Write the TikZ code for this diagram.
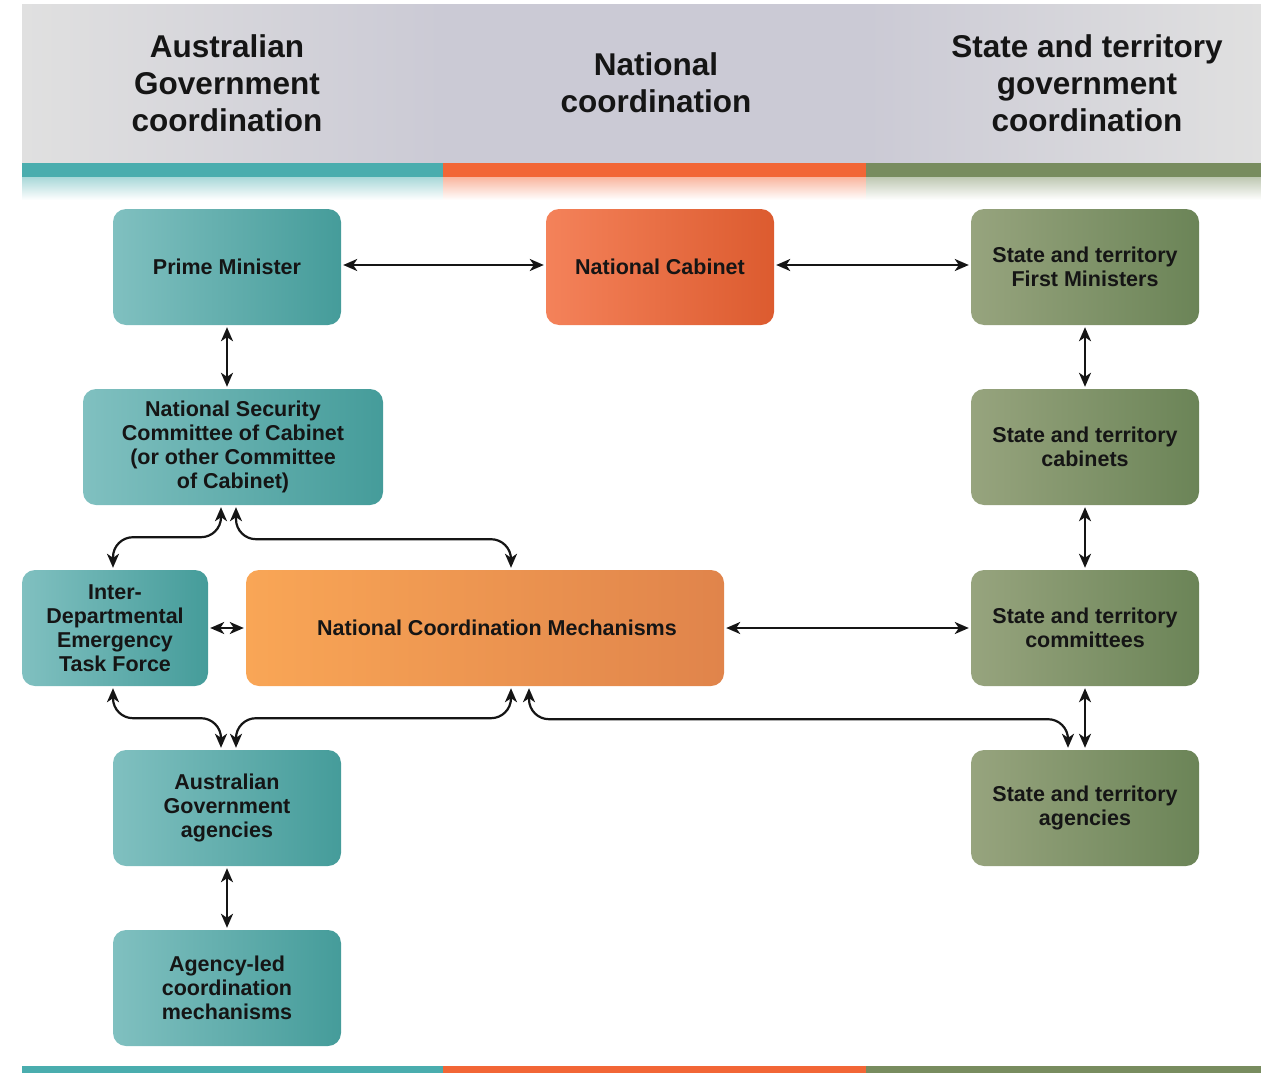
\documentclass[tikz,border=0pt]{standalone}
\usepackage{fontspec}
\setmainfont{Liberation Sans}
\usetikzlibrary{arrows.meta}
\definecolor{tealbar}{HTML}{4AADAE}
\definecolor{orangebar}{HTML}{F26636}
\definecolor{greenbar}{HTML}{788C5F}
\definecolor{hdrlight}{HTML}{E0E0E0}
\definecolor{hdrdark}{HTML}{CBCAD5}
\definecolor{tealA}{HTML}{80C0C0}
\definecolor{tealB}{HTML}{4BACAC}
\definecolor{tealC}{HTML}{459C9A}
\definecolor{ncA}{HTML}{F4825A}
\definecolor{ncB}{HTML}{F26536}
\definecolor{ncC}{HTML}{DC5B2F}
\definecolor{ncmA}{HTML}{F9A656}
\definecolor{ncmB}{HTML}{EE9450}
\definecolor{ncmC}{HTML}{E0844B}
\definecolor{grA}{HTML}{97A47E}
\definecolor{grB}{HTML}{7F9066}
\definecolor{grC}{HTML}{6B8457}
\definecolor{txt}{HTML}{151515}
\newcommand\mybfont{\fontsize{21.5}{24}\selectfont\bfseries}
\newcommand\myhfont{\fontsize{31.5}{37}\selectfont\bfseries}
\begin{document}
\begin{tikzpicture}[x=1pt,y=-1pt,
  box/.style={rounded corners=13pt, minimum width=228pt, minimum height=116pt,
    align=center, font=\mybfont, text=txt, inner sep=0pt},
  tealbox/.style={box, left color=tealA, middle color=tealB, right color=tealC},
  ncbox/.style={box, left color=ncA, middle color=ncB, right color=ncC},
  ncmbox/.style={box, left color=ncmA, middle color=ncmB, right color=ncmC},
  grbox/.style={box, left color=grA, middle color=grB, right color=grC},
  hdr/.style={align=center, font=\myhfont, text=txt, inner sep=0pt},
  biarrow/.style={{Stealth[length=14pt,width=12pt,inset=4pt]}-{Stealth[length=14pt,width=12pt,inset=4pt]},
    line width=2.2pt, draw=txt, shorten <=2pt, shorten >=2pt},
  curved/.style={biarrow, rounded corners=20pt}]
\useasboundingbox (0,0) rectangle (1261,1073);
% header background
\shade[left color=hdrlight, right color=hdrdark] (22,5) rectangle (443,163);
\shade[left color=hdrdark, middle color=hdrlight, right color=hdrdark] (443,5) rectangle (866,163);
\shade[left color=hdrdark, right color=hdrlight] (866,5) rectangle (1261,163);
% bars
\shade[top color=tealbar!50, bottom color=white] (22,176) rectangle (443,200);
\shade[top color=orangebar!50, bottom color=white] (443,176) rectangle (866,200);
\shade[top color=greenbar!50, bottom color=white] (866,176) rectangle (1261,200);
\fill[tealbar] (22,163) rectangle (443,177);
\fill[orangebar] (443,163) rectangle (866,177);
\fill[greenbar] (866,163) rectangle (1261,177);
\fill[tealbar] (22,1066) rectangle (443,1073);
\fill[orangebar] (443,1066) rectangle (866,1073);
\fill[greenbar] (866,1066) rectangle (1261,1073);
% headers
\node[hdr] (h1) at (227,83) {Australian\\Government\\coordination};
\node[hdr] (h2) at (656,83) {National\\coordination};
\node[hdr] (h3) at (1087,83) {State and territory\\government\\coordination};
% boxes
\node[tealbox] (pm) at (227,267) {Prime Minister};
\node[ncbox] (nc) at (660,267) {National Cabinet};
\node[grbox] (fm) at (1085,267) {State and territory\\First Ministers};
\node[tealbox, minimum width=300pt] (nsc) at (233,447) {National Security\\Committee of Cabinet\\(or other Committee\\of Cabinet)};
\node[grbox] (cab) at (1085,447) {State and territory\\cabinets};
\node[tealbox, minimum width=186pt] (idetf) at (115,628) {Inter-\\Departmental\\Emergency\\Task Force};
\node[ncmbox, minimum width=478pt] (ncm) at (485,628) {\hspace*{24pt}National Coordination Mechanisms};
\node[grbox] (com) at (1085,628) {State and territory\\committees};
\node[tealbox] (aga) at (227,808) {Australian\\Government\\agencies};
\node[grbox] (sa) at (1085,808) {State and territory\\agencies};
\node[tealbox] (alc) at (227,988) {Agency-led\\coordination\\mechanisms};
% straight connectors
\draw[biarrow] ([yshift=2pt]pm.east) -- ([yshift=2pt]nc.west);
\draw[biarrow] ([yshift=2pt]nc.east) -- ([yshift=2pt]fm.west);
\draw[biarrow] (pm.south) -- (pm.south |- nsc.north);
\draw[biarrow] (fm.south) -- (cab.north);
\draw[biarrow] (cab.south) -- (com.north);
\draw[biarrow] (com.south) -- (sa.north);
\draw[biarrow] (ncm.east) -- (com.west);
\draw[biarrow] (idetf.east) -- (ncm.west);
\draw[biarrow] (aga.south) -- (alc.north);
% curved connectors
\draw[curved] ([xshift=-12pt]nsc.south) -- ++(0,32) -| ([xshift=-2pt]idetf.north);
\draw[curved] ([xshift=3pt]nsc.south) -- ++(0,34) -| ([xshift=26pt]ncm.north);
\draw[curved] ([xshift=-2pt]idetf.south) -- ++(0,32) -| ([xshift=-6pt]aga.north);
\draw[curved] ([xshift=26pt]ncm.south) -- ++(0,32) -| ([xshift=9pt]aga.north);
\draw[curved] ([xshift=44pt]ncm.south) -- ++(0,33) -| ([xshift=-17pt]sa.north);
\end{tikzpicture}
\end{document}
